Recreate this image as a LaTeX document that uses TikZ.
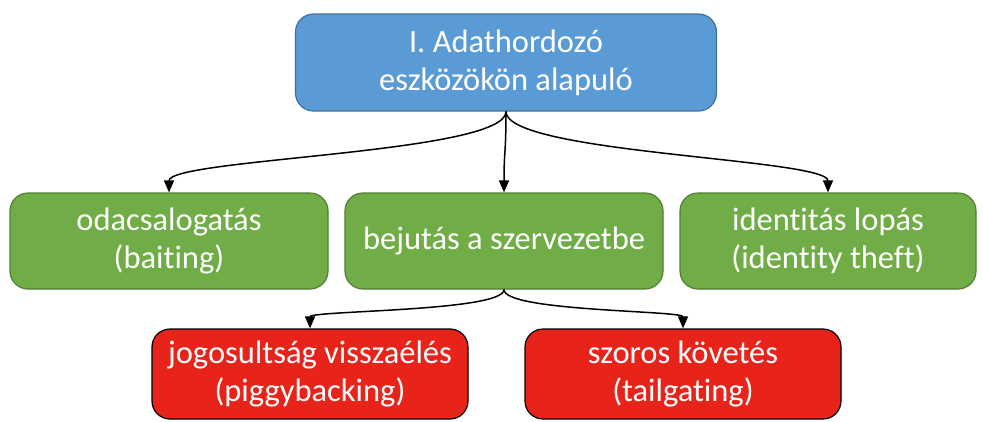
\documentclass[tikz,border=0pt]{standalone}
\usepackage{fontspec}
\setmainfont{Carlito}[Ligatures=NoCommon]
\usetikzlibrary{arrows.meta}
\definecolor{topblue}{HTML}{5B9BD5}
\definecolor{topline}{HTML}{41719C}
\definecolor{grfill}{HTML}{70AD47}
\definecolor{grline}{HTML}{507E32}
\definecolor{rdfill}{HTML}{E8241A}
\begin{document}
\begin{tikzpicture}[x=1pt,y=-1pt,line width=1.5pt,draw=black]
	\tikzstyle{every node}=[rectangle,rounded corners=18pt,text=white,align=center,line width=1.2pt,inner sep=0pt,font=\fontsize{32.5}{38}\selectfont]
	\tikzstyle{TOP}=[fill=topblue,draw=topline,minimum width=421pt,minimum height=97pt] % TOP = root node
	\tikzstyle{GR} =[fill=grfill,draw=grline,minimum width=318pt,minimum height=96pt]   % GR = second level
	\tikzstyle{RD} =[fill=rdfill,draw=black,minimum width=316pt,minimum height=90pt]    % RD = third level
	\tikzstyle{con}=[-{Triangle[length=12pt,width=10pt]}]
	\useasboundingbox (0,0) rectangle (983,421);
	% level 1
	\node(root)[TOP] at (506,62.5) {I. Adathordozó\\eszközökön alapuló};
	% level 2
	\node(bait)[GR] at (169,241) {odacsalogatás\\(baiting)};
	\node(entry)[GR] at (504,241) {bejutás a szervezetbe};
	\node(ident)[GR,minimum width=296pt] at (828,241) {identitás lopás\\(identity theft)};
	% level 3
	\node(piggy)[RD] at (310,374) {jogosultság visszaélés\\(piggybacking)};
	\node(tail)[RD] at (683,374) {szoros követés\\(tailgating)};
	% connectors from root
	\draw[con](root.south)to[out=-90,in=90,out distance=42pt,in distance=34pt](bait.north);
	\draw[con](root.south)to[out=-90,in=90,distance=42pt](entry.north);
	\draw[con](root.south)to[out=-90,in=90,out distance=42pt,in distance=34pt](ident.north);
	% connectors from entry
	\draw[con](entry.south)to[out=-90,in=90,out distance=22pt,in distance=18pt](piggy.north);
	\draw[con](entry.south)to[out=-90,in=90,out distance=22pt,in distance=18pt](tail.north);
\end{tikzpicture}
\end{document}
